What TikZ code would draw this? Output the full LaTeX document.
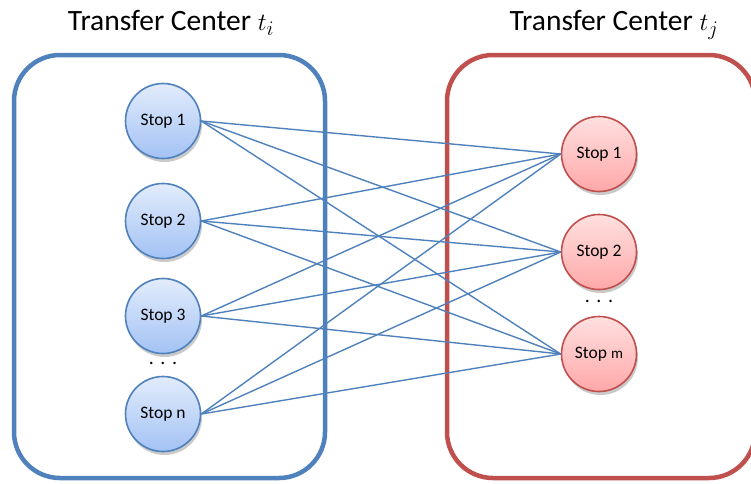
\documentclass[tikz,border=0pt]{standalone}
\usepackage{fontspec}
\setmainfont{Carlito}
\usetikzlibrary{shadows}
\definecolor{tcblue}{HTML}{4F81BD}
\definecolor{tcred}{HTML}{C0504D}
\definecolor{bluetop}{HTML}{E2ECFC}
\definecolor{bluebot}{HTML}{A3C2F4}
\definecolor{redtop}{HTML}{FFE0E0}
\definecolor{redbot}{HTML}{FFA8A8}
\begin{document}
\begin{tikzpicture}[x=1pt,y=-1pt,
  centerbox/.style={line width=4.5pt,rounded corners=46pt},
  stopblue/.style={circle,draw=tcblue,line width=1.6pt,minimum size=75pt,inner sep=0pt,
    top color=bluetop,bottom color=bluebot,font=\fontsize{17.5}{20}\selectfont,
    drop shadow={shadow xshift=1.5pt,shadow yshift=-3.5pt,opacity=0.35,fill=black!60}},
  stopred/.style={circle,draw=tcred,line width=1.6pt,minimum size=75pt,inner sep=0pt,
    top color=redtop,bottom color=redbot,font=\fontsize{17.5}{20}\selectfont,
    drop shadow={shadow xshift=1.5pt,shadow yshift=-3.5pt,opacity=0.35,fill=black!60}},
  link/.style={draw=tcblue,line width=1.4pt},
  title/.style={font=\fontsize{29.5}{33}\selectfont,anchor=base},
  dots/.style={font=\fontsize{20}{22}\selectfont}]
\useasboundingbox (0,0) rectangle (751,483);

% transfer center frames
\draw[centerbox,tcblue] (14,55) rectangle (325,478);
\draw[centerbox,tcred] (447,55) rectangle (755,478);

% titles
\node[title] (ti) at (171,30) {Transfer Center $t_i$};
\node[title] (tj) at (614,30) {Transfer Center $t_j$};

% stops of t_i
\node[stopblue] (a1) at (163,121) {Stop 1};
\node[stopblue] (a2) at (163,221) {Stop 2};
\node[stopblue] (a3) at (163,316) {Stop 3};
\node[stopblue] (an) at (163,414) {Stop n};
\node[dots] (da) at (163,363) {.\,\,.\,\,.};

% stops of t_j
\node[stopred] (b1) at (599,154) {Stop 1};
\node[stopred] (b2) at (599,252) {Stop 2};
\node[stopred] (bm) at (599,354) {Stop {\fontsize{15}{18}\selectfont m}};
\node[dots] (db) at (599,301) {.\,\,.\,\,.};

% every stop of t_i links to every stop of t_j
\foreach \s in {a1,a2,a3,an}
  \foreach \t in {b1,b2,bm}
    \draw[link] (\s.east) -- (\t.west);
\end{tikzpicture}
\end{document}
